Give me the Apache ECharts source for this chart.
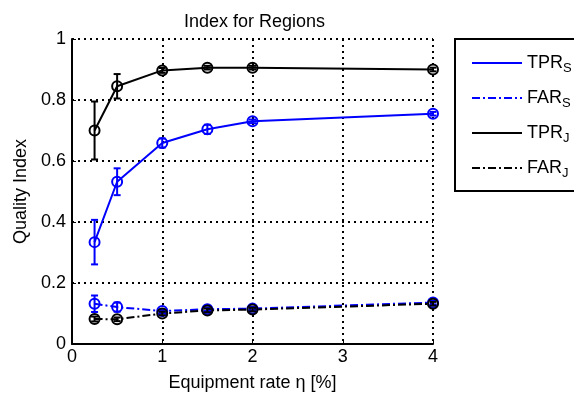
<!DOCTYPE html>
<html>
<head>
<meta charset="utf-8">
<script src="https://cdn.jsdelivr.net/npm/echarts@6/dist/echarts.min.js"></script>
<style>
  html, body { margin: 0; padding: 0; background: #fff; }
  #chart { width: 574px; height: 398px; }
</style>
</head>
<body>
<div id="chart"></div>
<script>
// equipment rate (x)
var rates = [0.25, 0.5, 1, 1.5, 2, 4];

// quality index values and error half-widths
var tprS = [0.334, 0.532, 0.659, 0.704, 0.730, 0.755];
var tprSErr = [0.073, 0.044, 0.015, 0.015, 0.006, 0.006];
var farS = [0.132, 0.121, 0.108, 0.114, 0.116, 0.136];
var farSErr = [0.027, 0.015, 0.006, 0.006, 0.006, 0.006];
var tprJ = [0.700, 0.845, 0.897, 0.906, 0.906, 0.900];
var tprJErr = [0.095, 0.040, 0.008, 0.006, 0.006, 0.006];
var farJ = [0.082, 0.081, 0.100, 0.110, 0.113, 0.132];
var farJErr = [0.008, 0.006, 0.006, 0.006, 0.006, 0.006];

var yTicks = [0, 0.2, 0.4, 0.6, 0.8, 1];
var xTicks = [0, 1, 2, 3, 4];

var chart = echarts.init(document.getElementById('chart'));

function pairs(ys) {
    return rates.map(function (x, i) { return [x, ys[i]]; });
}
function triples(ys, es) {
    return rates.map(function (x, i) { return [x, ys[i], es[i]]; });
}

// error bar + open circle marker
function errRender(color) {
    return function (params, api) {
        var x = api.value(0), y = api.value(1), e = api.value(2);
        var c = api.coord([x, y]);
        var hi = api.coord([x, y + e]);
        var lo = api.coord([x, y - e]);
        var cap = 3.5;
        var st = { stroke: color, lineWidth: 2, fill: null };
        return {
            type: 'group',
            children: [
                { type: 'line', shape: { x1: c[0], y1: hi[1], x2: c[0], y2: lo[1] }, style: st },
                { type: 'line', shape: { x1: c[0] - cap, y1: hi[1], x2: c[0] + cap, y2: hi[1] }, style: st },
                { type: 'line', shape: { x1: c[0] - cap, y1: lo[1], x2: c[0] + cap, y2: lo[1] }, style: st },
                { type: 'circle', shape: { cx: c[0], cy: c[1], r: 5 }, style: st }
            ]
        };
    };
}

function lineSeries(name, ys, color, dash) {
    return {
        name: name,
        type: 'line',
        data: pairs(ys),
        symbol: 'none',
        lineStyle: { color: color, width: 2, type: dash },
        itemStyle: { color: color },
        z: 2
    };
}
function errSeries(ys, es, color) {
    return {
        type: 'custom',
        data: triples(ys, es),
        renderItem: errRender(color),
        encode: { x: 0, y: 1 },
        z: 3,
        silent: true
    };
}

var dashDot = [8, 3, 2, 3];
var font = 'Liberation Sans, Arial, sans-serif';
var fs = 18;

var option = {
    animation: false,
    textStyle: { fontFamily: font },
    title: {
        text: 'Index for Regions',
        left: 179,
        top: 8,
        textStyle: { fontSize: fs, fontWeight: 'normal', color: '#000', fontFamily: font }
    },
    grid: { left: 72, right: 141, top: 39, bottom: 54, containLabel: false },
    legend: {
        orient: 'vertical',
        left: 466,
        top: 49,
        itemWidth: 50,
        itemHeight: 20,
        itemGap: 14,
        itemStyle: { opacity: 0, borderWidth: 0 },
        data: ['TPR_S', 'FAR_S', 'TPR_J', 'FAR_J'],
        formatter: function (name) {
            var p = name.split('_');
            return '{a|' + p[0] + '}{s|' + p[1] + '}';
        },
        textStyle: {
            color: '#000',
            rich: {
                a: { fontSize: fs, fontFamily: font, color: '#000' },
                s: { fontSize: 13, fontFamily: font, color: '#000', padding: [11, 0, 0, 0] }
            }
        }
    },
    graphic: [
        { type: 'rect', shape: { x: 455, y: 39, width: 140, height: 152 },
          style: { fill: null, stroke: '#000', lineWidth: 2 }, z: 0 }
    ],
    xAxis: {
        type: 'value',
        min: xTicks[0], max: xTicks[xTicks.length - 1], interval: 1,
        name: 'Equipment rate η [%]',
        nameLocation: 'middle',
        nameGap: 30,
        nameTextStyle: { fontSize: fs, color: '#000' },
        axisLine: { lineStyle: { color: '#000', width: 2 } },
        axisTick: { inside: true, length: 4, lineStyle: { color: '#000' } },
        axisLabel: { fontSize: fs, color: '#000', margin: 4 },
        splitLine: { show: true, lineStyle: { color: '#000', type: [2, 4], width: 2 } }
    },
    yAxis: {
        type: 'value',
        min: yTicks[0], max: yTicks[yTicks.length - 1], interval: 0.2,
        name: 'Quality Index',
        nameLocation: 'middle',
        nameGap: 42,
        nameTextStyle: { fontSize: fs, color: '#000' },
        axisLine: { show: true, lineStyle: { color: '#000', width: 2 } },
        axisTick: { show: true, inside: true, length: 4, lineStyle: { color: '#000' } },
        axisLabel: { fontSize: fs, color: '#000', margin: 6 },
        splitLine: { show: true, lineStyle: { color: '#000', type: [2, 4], width: 2 } }
    },
    series: [
        lineSeries('TPR_S', tprS, '#0000ff', 'solid'),
        lineSeries('FAR_S', farS, '#0000ff', dashDot),
        lineSeries('TPR_J', tprJ, '#000000', 'solid'),
        lineSeries('FAR_J', farJ, '#000000', dashDot),
        errSeries(tprS, tprSErr, '#0000ff'),
        errSeries(farS, farSErr, '#0000ff'),
        errSeries(tprJ, tprJErr, '#000000'),
        errSeries(farJ, farJErr, '#000000')
    ]
};
chart.setOption(option);
</script>
</body>
</html>
